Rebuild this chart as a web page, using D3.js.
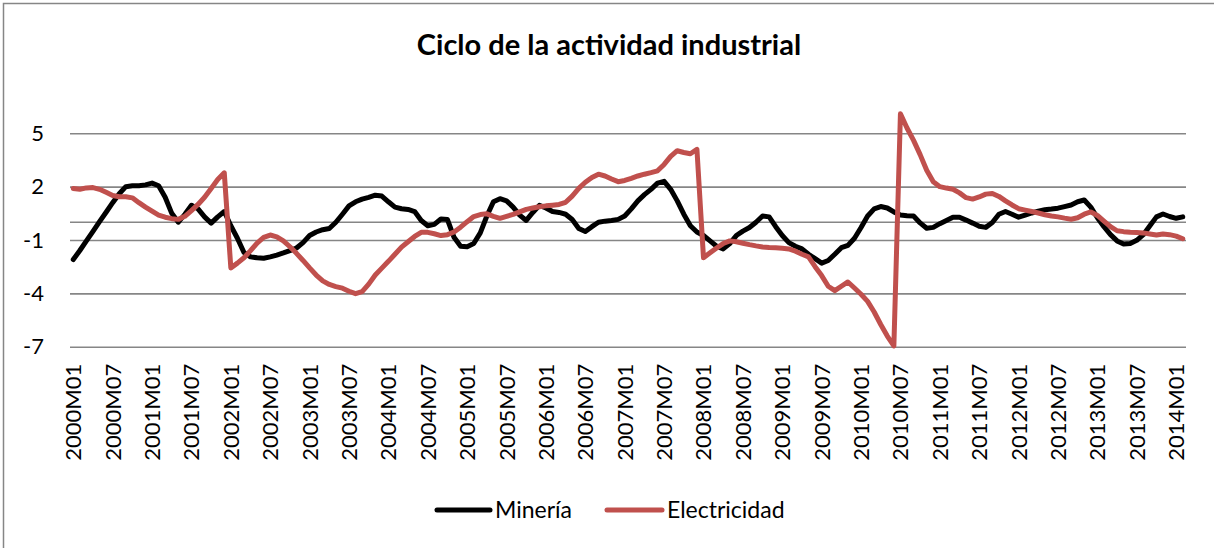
<!DOCTYPE html>
<html>
<head>
<meta charset="utf-8">
<script src="https://cdn.jsdelivr.net/npm/d3@7"></script>
<style>
  html, body { margin: 0; padding: 0; background: #fff; }
  svg { display: block; }
  text { font-family: Lato, "Open Sans", sans-serif; fill: #000; }
</style>
</head>
<body>
<svg id="chart" width="1214" height="548"></svg>
<script>
// ---------- data ----------
const years = d3.range(2000, 2015);
const months = ["01","02","03","04","05","06","07","08","09","10","11","12"];
const categories = [];
years.forEach(y => months.forEach(m => categories.push(y + "M" + m)));
categories.length = 170; // 2000M01 .. 2014M02

const mineria = [
 -2.1,-1.59,-1.05,-0.51,0.03,0.56,1.1,1.6,2.0,2.05,2.05,2.1,
 2.2,2.05,1.4,0.5,0.0,0.45,0.95,0.75,0.3,-0.05,0.3,0.6,
 -0.2,-0.9,-1.7,-1.95,-2.0,-2.03,-1.95,-1.85,-1.73,-1.6,-1.45,-1.15,
 -0.75,-0.55,-0.42,-0.35,0.0,0.45,0.92,1.15,1.3,1.4,1.52,1.47,
 1.15,0.85,0.76,0.72,0.6,0.1,-0.2,-0.12,0.18,0.15,-0.85,-1.35,
 -1.38,-1.2,-0.6,0.35,1.15,1.32,1.2,0.85,0.4,0.1,0.55,0.95,
 0.8,0.6,0.55,0.45,0.15,-0.35,-0.52,-0.25,0.0,0.06,0.1,0.16,
 0.35,0.75,1.2,1.55,1.85,2.2,2.3,1.85,1.2,0.45,-0.2,-0.55,
 -0.75,-1.05,-1.35,-1.5,-1.2,-0.75,-0.5,-0.3,0.0,0.35,0.3,-0.25,
 -0.75,-1.15,-1.35,-1.5,-1.8,-2.05,-2.3,-2.15,-1.8,-1.43,-1.3,-0.9,
 -0.3,0.35,0.75,0.88,0.8,0.58,0.4,0.37,0.35,-0.04,-0.34,-0.29,
 -0.08,0.1,0.28,0.28,0.12,-0.05,-0.23,-0.29,-0.02,0.45,0.6,0.45,
 0.28,0.4,0.52,0.62,0.7,0.74,0.79,0.88,0.97,1.15,1.25,0.85,
 0.25,-0.25,-0.7,-1.05,-1.23,-1.2,-1.02,-0.7,-0.2,0.3,0.46,0.32,
 0.22,0.3
];

const electricidad = [
 1.9,1.85,1.93,1.95,1.85,1.68,1.5,1.43,1.43,1.37,1.1,0.85,
 0.62,0.4,0.28,0.2,0.16,0.33,0.65,1.0,1.4,1.9,2.4,2.78,
 -2.57,-2.3,-2.0,-1.6,-1.17,-0.85,-0.72,-0.82,-1.05,-1.38,-1.75,-2.15,
 -2.57,-2.97,-3.3,-3.5,-3.62,-3.71,-3.88,-4.02,-3.9,-3.48,-2.97,-2.58,
 -2.2,-1.8,-1.4,-1.1,-0.8,-0.57,-0.57,-0.65,-0.75,-0.7,-0.55,-0.28,
 0.03,0.32,0.43,0.47,0.33,0.22,0.33,0.44,0.58,0.72,0.8,0.87,
 0.92,0.96,1.0,1.12,1.47,1.9,2.25,2.52,2.7,2.6,2.43,2.28,
 2.35,2.47,2.6,2.7,2.79,2.89,3.25,3.7,4.02,3.92,3.85,4.1,
 -2.0,-1.72,-1.45,-1.2,-1.05,-1.1,-1.18,-1.26,-1.33,-1.39,-1.42,-1.44,
 -1.46,-1.5,-1.63,-1.8,-1.95,-2.5,-3.0,-3.6,-3.85,-3.6,-3.36,-3.7,
 -4.05,-4.45,-5.05,-5.75,-6.4,-6.95,6.1,5.3,4.6,3.8,2.92,2.28,
 2.0,1.92,1.85,1.65,1.38,1.3,1.42,1.58,1.62,1.45,1.2,0.97,
 0.76,0.68,0.6,0.52,0.42,0.35,0.3,0.23,0.17,0.25,0.45,0.58,
 0.38,0.06,-0.25,-0.48,-0.53,-0.57,-0.58,-0.6,-0.66,-0.72,-0.66,-0.7,
 -0.78,-0.93
];

const yTicks = [5, 2, -1, -4, -7];
const xTickLabels = categories.filter((c, i) => i % 6 === 0);
const seriesNames = ["Minería", "Electricidad"];
const seriesColors = ["#000000", "#C0504D"];
const titleText = "Ciclo de la actividad industrial";

// ---------- layout ----------
const svg = d3.select("#chart");
const plot = { left: 70, right: 1186, top: 100, bottom: 346.7 };

svg.append("rect")
  .attr("x", 3.5).attr("y", 3.5)
  .attr("width", 1230).attr("height", 560)
  .attr("fill", "#fff").attr("stroke", "#868686").attr("stroke-width", 1.5);

const x = d3.scaleBand().domain(categories).range([plot.left, plot.right]).padding(0);
const xc = c => x(c) + x.bandwidth() / 2;
const y = d3.scaleLinear().domain([-7, 5]).range([346.7, 133.3]);

// gridlines + y labels
const yAxis = d3.axisLeft(y).tickValues(yTicks)
  .tickSize(-(plot.right - plot.left)).tickPadding(26)
  .tickFormat(d => String(d));
const gy = svg.append("g").attr("transform", `translate(${plot.left},0)`).call(yAxis);
gy.select(".domain").remove();
gy.selectAll(".tick line").attr("stroke", "#868686").attr("stroke-width", 1.6);
gy.selectAll(".tick text").attr("font-size", 22).attr("font-family", "Lato, sans-serif").attr("fill", "#000");

// zero axis line
svg.append("line")
  .attr("x1", plot.left).attr("x2", plot.right)
  .attr("y1", y(0)).attr("y2", y(0))
  .attr("stroke", "#868686").attr("stroke-width", 1.6);

// x labels
const xAxis = d3.axisBottom(x).tickValues(xTickLabels).tickSize(0).tickPadding(0);
const gx = svg.append("g").attr("transform", `translate(0,${y(-7)})`).call(xAxis);
gx.select(".domain").remove();
gx.selectAll(".tick text")
  .attr("font-size", 22).attr("font-family", "Lato, sans-serif").attr("fill", "#000")
  .attr("text-anchor", "end")
  .attr("dy", null).attr("y", 0)
  .attr("transform", "translate(8,17) rotate(-90)");

// lines
const line = d3.line().x((d, i) => xc(categories[i])).y(d => y(d));
[mineria, electricidad].forEach((s, k) => {
  svg.append("path")
    .datum(s)
    .attr("d", line)
    .attr("fill", "none")
    .attr("stroke", seriesColors[k])
    .attr("stroke-width", 5)
    .attr("stroke-linejoin", "round")
    .attr("stroke-linecap", "round");
});

// title
svg.append("text")
  .attr("x", 609).attr("y", 55)
  .attr("text-anchor", "middle")
  .attr("font-size", 29).attr("font-weight", "bold")
  .text(titleText);

// legend
const legendItems = [
  { name: seriesNames[0], color: seriesColors[0], x1: 437, x2: 490, tx: 495 },
  { name: seriesNames[1], color: seriesColors[1], x1: 607, x2: 662, tx: 667 }
];
const lg = svg.append("g");
legendItems.forEach(it => {
  lg.append("line").attr("x1", it.x1).attr("x2", it.x2).attr("y1", 510).attr("y2", 510)
    .attr("stroke", it.color).attr("stroke-width", 5).attr("stroke-linecap", "round");
  lg.append("text").attr("x", it.tx).attr("y", 518).attr("font-size", 23).text(it.name);
});
</script>
</body>
</html>
